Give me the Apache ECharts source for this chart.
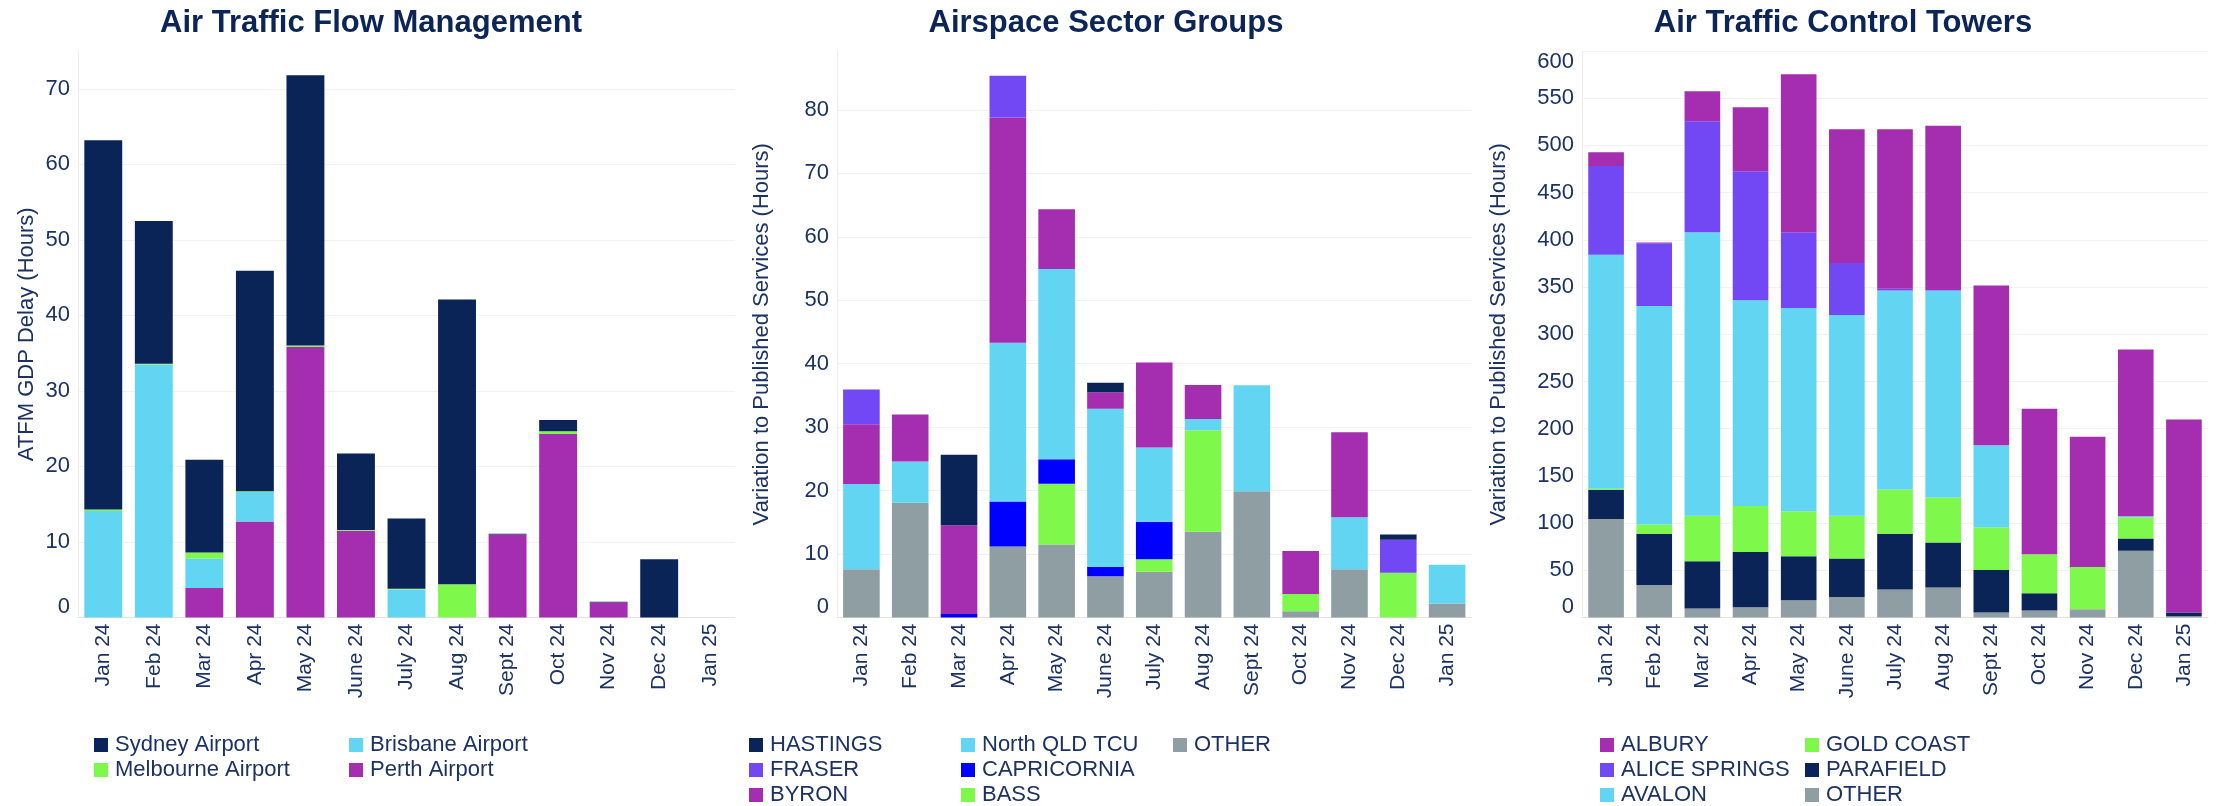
<!DOCTYPE html>
<html><head><meta charset="utf-8">
<script src="https://cdn.jsdelivr.net/npm/echarts@6/dist/echarts.min.js"></script>
<style>html,body{margin:0;padding:0;background:#fff}#c{width:2226px;height:806px}</style>
</head><body><div id="c"></div>
<script>
const months = ['Jan 24','Feb 24','Mar 24','Apr 24','May 24','June 24','July 24','Aug 24','Sept 24','Oct 24','Nov 24','Dec 24','Jan 25'];

// Air Traffic Flow Management (ATFM GDP Delay, hours)
const perthAirport     = [0, 0, 3.9, 12.7, 35.8, 11.5, 0, 0, 11.0, 24.3, 2.0, 0, 0];
const brisbaneAirport  = [14.1, 33.5, 3.9, 3.9, 0, 0, 3.7, 0, 0, 0, 0, 0, 0];
const melbourneAirport = [0.2, 0.1, 0.8, 0.1, 0.2, 0.1, 0.1, 4.4, 0, 0.35, 0, 0, 0];
const sydneyAirport    = [48.9, 18.9, 12.3, 29.2, 35.8, 10.1, 9.3, 37.7, 0.1, 1.5, 0.1, 7.7, 0];

// Airspace Sector Groups
const sgOther       = [7.6, 18.1, 0, 11.2, 11.5, 6.5, 7.2, 13.5, 19.9, 1.0, 7.6, 0, 2.2];
const sgBass        = [0, 0, 0, 0, 9.6, 0, 2.0, 16.0, 0, 2.7, 0, 7.05, 0];
const sgCapricornia = [0, 0, 0.55, 7.1, 3.85, 1.5, 5.9, 0, 0, 0, 0, 0, 0];
const sgNorthQld    = [13.45, 6.5, 0, 25.0, 30.0, 24.9, 11.7, 1.8, 16.7, 0, 8.2, 0, 6.1];
const sgByron       = [9.4, 7.4, 14.0, 35.5, 9.4, 2.6, 13.4, 5.35, 0, 6.8, 13.4, 0, 0];
const sgFraser      = [5.5, 0, 0, 6.6, 0, 0, 0, 0, 0, 0, 0, 5.2, 0];
const sgHastings    = [0, 0, 11.1, 0, 0, 1.5, 0, 0, 0, 0, 0, 0.85, 0];

// Air Traffic Control Towers
const twOther     = [104.2, 34.4, 9.6, 10.9, 18.3, 21.8, 29.6, 31.8, 5.3, 7.5, 8.8, 70.8, 1.4];
const twParafield = [30.8, 54.2, 49.9, 58.6, 46.5, 40.8, 59.0, 47.7, 45.1, 18.2, 0, 13.0, 3.9];
const twGoldCoast = [1.3, 10.0, 48.2, 48.6, 47.7, 45.1, 46.9, 47.5, 45.1, 41.2, 44.7, 22.5, 0];
const twAvalon    = [247.8, 231.3, 300.3, 217.9, 215.3, 212.7, 210.9, 219.4, 86.9, 0, 0, 1.0, 0];
const twAlice     = [94.2, 66.4, 117.6, 136.7, 80.2, 55.1, 1.8, 0.5, 0, 0, 0, 0, 0];
const twAlbury    = [14.4, 0.9, 31.8, 67.7, 167.5, 141.5, 168.8, 174.0, 169.2, 154.1, 138.0, 176.6, 204.4];

const titles = ['Air Traffic Flow Management', 'Airspace Sector Groups', 'Air Traffic Control Towers'];
const yNames = ['ATFM GDP Delay (Hours)', 'Variation to Published Services (Hours)', 'Variation to Published Services (Hours)'];

const C = {navy:'#0a2458', cyan:'#62d5f2', green:'#7ef84b', mag:'#a52db0', violet:'#7247f4', blue:'#0000ff', gray:'#8f9ea3'};
const FONT = '"Liberation Sans", Arial, sans-serif';
const TXT = '#1c3262';
const TITLE = '#0b2557';

const grids = [
  {left: 78,   top: 51, width: 657,   height: 566.5},
  {left: 837,  top: 51, width: 634.5, height: 566.5},
  {left: 1582, top: 51, width: 626,   height: 566.5}
];
const yCfg = [
  {max: 75, interval: 10, nameGap: 40, hideMax: true},
  {max: 89.3, interval: 10, nameGap: 64, hideMax: true},
  {max: 600, interval: 50, nameGap: 72, hideMax: false}
];

const chartSeries = [
  [['Perth Airport', perthAirport, C.mag], ['Brisbane Airport', brisbaneAirport, C.cyan], ['Melbourne Airport', melbourneAirport, C.green], ['Sydney Airport', sydneyAirport, C.navy]],
  [['OTHER', sgOther, C.gray], ['BASS', sgBass, C.green], ['CAPRICORNIA', sgCapricornia, C.blue], ['North QLD TCU', sgNorthQld, C.cyan], ['BYRON', sgByron, C.mag], ['FRASER', sgFraser, C.violet], ['HASTINGS', sgHastings, C.navy]],
  [['OTHER', twOther, C.gray], ['PARAFIELD', twParafield, C.navy], ['GOLD COAST', twGoldCoast, C.green], ['AVALON', twAvalon, C.cyan], ['ALICE SPRINGS', twAlice, C.violet], ['ALBURY', twAlbury, C.mag]]
];

const legendCols = [
  {left: 94,   top: 734, data: ['Sydney Airport', 'Melbourne Airport']},
  {left: 349,  top: 734, data: ['Brisbane Airport', 'Perth Airport']},
  {left: 749,  top: 734, data: ['HASTINGS', 'FRASER', 'BYRON']},
  {left: 961,  top: 734, data: ['North QLD TCU', 'CAPRICORNIA', 'BASS']},
  {left: 1173, top: 734, data: ['OTHER']},
  {left: 1600, top: 734, data: ['ALBURY', 'ALICE SPRINGS', 'AVALON']},
  {left: 1805, top: 734, data: ['GOLD COAST', 'PARAFIELD', 'OTHER']}
];
const titleX = [371, 1106, 1843];

const series = [];
chartSeries.forEach((list, gi) => {
  list.forEach(([name, data, color]) => {
    series.push({
      type: 'bar', name, data, stack: 's' + gi,
      xAxisIndex: gi, yAxisIndex: gi,
      barCategoryGap: gi === 2 ? '26%' : '25%',
      itemStyle: {color},
      emphasis: {disabled: true}
    });
  });
});

const option = {
  animation: false,
  textStyle: {fontFamily: FONT},
  title: titles.map((t, i) => ({
    text: t, left: titleX[i], top: 8, textAlign: 'center', padding: 0,
    textStyle: {fontSize: 31, fontWeight: 'bold', color: TITLE, fontFamily: FONT}
  })),
  grid: grids.map(g => Object.assign({outerBoundsMode: 'none', containLabel: false}, g)),
  xAxis: grids.map((g, i) => ({
    type: 'category', gridIndex: i, data: months,
    axisLine: {lineStyle: {color: '#e4e4e4', width: 1}},
    axisTick: {length: 5, lineStyle: {color: '#dcdcdc'}},
    axisLabel: {rotate: 90, fontSize: 21, margin: 6, color: TXT, fontFamily: FONT, interval: 0}
  })),
  yAxis: yCfg.map((c, i) => ({
    type: 'value', gridIndex: i, min: 0, max: c.max, interval: c.interval,
    name: yNames[i], nameLocation: 'middle', nameGap: c.nameGap,
    nameTextStyle: {fontSize: 22, color: TXT, fontFamily: FONT},
    axisLine: {show: true, lineStyle: {color: '#ececec'}},
    axisTick: {show: false},
    splitLine: {show: true, showMaxLine: !c.hideMax, lineStyle: {color: '#f1f1f1'}},
    axisLabel: {fontSize: 22, margin: 8, color: TXT, fontFamily: FONT,
      showMaxLabel: !c.hideMax, verticalAlignMinLabel: 'bottom',
      verticalAlignMaxLabel: c.hideMax ? null : 'top'}
  })),
  legend: legendCols.map(l => ({
    orient: 'vertical', left: l.left, top: l.top, data: l.data, padding: 0,
    icon: 'rect', itemWidth: 14, itemHeight: 14, itemGap: 3, selectedMode: false,
    textStyle: {fontSize: 22, color: TXT, fontFamily: FONT, padding: [0, 0, 0, 2]}
  })),
  series
};

const chart = echarts.init(document.getElementById('c'), null, {renderer: 'canvas'});
chart.setOption(option);
</script>
</body></html>
